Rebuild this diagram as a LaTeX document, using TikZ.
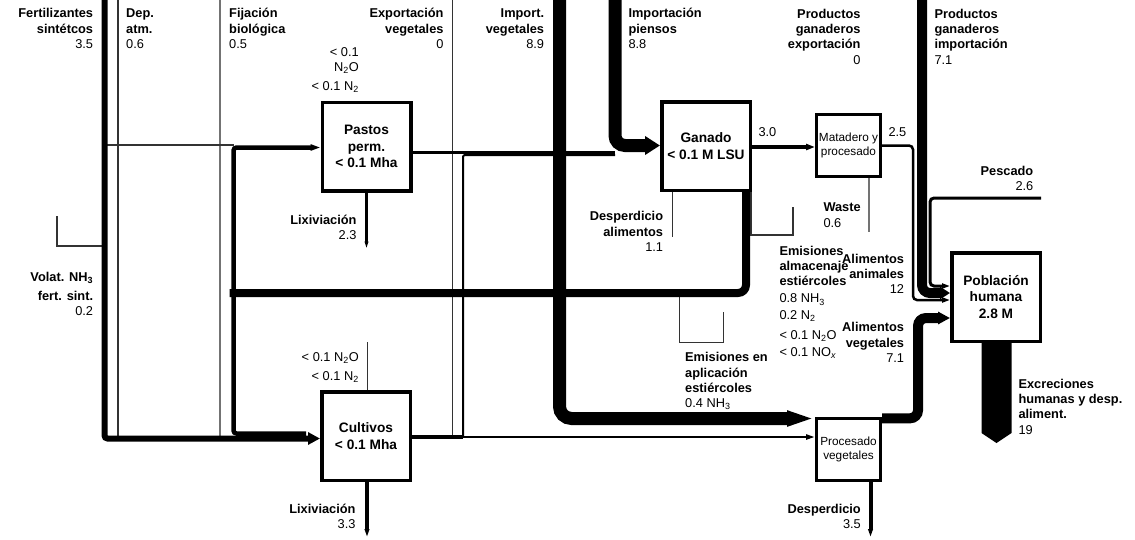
\documentclass[tikz,border=0pt]{standalone}
\usepackage{fontspec}
\setmainfont{Liberation Sans}
\usetikzlibrary{arrows.meta,calc}

\newcommand\lblfont{\fontsize{12.8}{15.3}\selectfont}
\newcommand\boxfont{\fontsize{13.7}{16.8}\selectfont\bfseries}
\newcommand\smallboxfont{\fontsize{11.8}{14.6}\selectfont}
\newcommand\sub[1]{\textsubscript{#1}}

\begin{document}
% Labels are placed by the baseline of their last line.
\begin{tikzpicture}[x=1pt,y=-1pt,
  flow/.style={draw=black,line width=#1},
  minor/.style={draw=black!80,line width=#1},
  bigbox/.style={draw,line width=3.5pt,fill=white,minimum width=88.5pt,minimum height=88.5pt,inner sep=0pt,align=center,font=\boxfont},
  smallbox/.style={draw,line width=3pt,fill=white,minimum width=64pt,minimum height=62pt,inner sep=0pt,align=center,font=\smallboxfont},
  lr/.style={inner sep=0pt,font=\lblfont,align=right,anchor=base east},
  ll/.style={inner sep=0pt,font=\lblfont,align=left,anchor=base west},
]
\fill[white] (0,0) rectangle (1135,539);
\useasboundingbox (0,0) rectangle (1135,539);

% ---- compartments
\node[bigbox] (pastos) at (366.5,146.5) {Pastos\\perm.\\< 0.1 Mha};
\node[bigbox] (ganado) at (706,146) {Ganado\\< 0.1 M LSU};
\node[bigbox] (cultivos) at (366,436) {Cultivos\\< 0.1 Mha};
\node[bigbox] (poblacion) at (996,297) {Población\\humana\\2.8 M};
\node[smallbox] (matadero) at (848.5,145.5) {Matadero y\\procesado};
\node[smallbox] (procveg) at (848.5,449.5) {Procesado\\vegetales};

% ---- inputs entering from the top edge
\coordinate (fert) at (104.5,0);
\coordinate (dep) at (118,0);
\coordinate (fij) at (220,0);
\coordinate (expveg) at (452,0);
\coordinate (impveg) at (559.5,0);
\coordinate (piensos) at (615,0);
\coordinate (impanim) at (922,0);
\coordinate (pescado) at (1041,198);
% ---- junctions and loose ends
\coordinate (msplit) at (233.5,293);
\coordinate (cout) at (463,437);
\coordinate (volat) at (57,216);
\coordinate (meatdown) at (913,300);
\coordinate (fishdown) at (930,286);
\coordinate (vegup) at (918,318);
\coordinate (storem) at (793,207);
\coordinate (applyfrom) at (679,297);
\coordinate (applyem) at (723,312);
\coordinate (cropem) at (367,342);

% ---- minor flows
\draw[minor=1.5] (dep) -- (dep |- 0,437);
\draw[minor=1.2,draw=black!55] (fij) -- (fij |- 0,437);
\draw[minor=1.5] (fert |- 0,145) -- (msplit |- 0,145);
\draw[minor=1] (expveg) -- (expveg |- 0,437);
\draw[minor=1.3] (fert |- 0,246) -| (volat);
\draw[minor=1] (cropem) -- ([xshift=1pt]cultivos.north);
\draw[minor=1.5] ([xshift=-33.5pt]ganado.south) -- ++(0,45);
\draw[minor=1.5,draw=black!55] ([xshift=20.5pt]matadero.south) -- ++(0,54);
\draw[minor=1.5] ([xshift=45pt]ganado.south) |- (storem |- 0,235) -- (storem);
\draw[minor=1] (applyfrom) |- (applyem |- 0,342) -- (applyem);

% ---- synthetic fertiliser to crops
\draw[flow=6,rounded corners=3pt,-{Triangle[length=12pt,width=12pt]}] (fert) |- ([yshift=-2.5pt]cultivos.west);

% ---- manure from livestock to the fields
\draw[flow=8,rounded corners=8pt] ([xshift=40pt]ganado.south) |- ([xshift=-4pt]msplit);
\draw[flow=4.5,rounded corners=3pt,-{Triangle[length=10pt,width=6pt]}] ([yshift=-2pt]msplit) |- ([yshift=-1pt]pastos.west);
\draw[flow=4.5,rounded corners=3pt,shorten >=14pt] ([yshift=2pt]msplit) |- ([yshift=2.5pt]cultivos.west);

% ---- feed to livestock
\draw[flow=2,rounded corners=2pt] (cout) |- (piensos |- 0,155);
\draw[flow=3] ([yshift=-6pt]pastos.east) -- (piensos |- 0,152.5);
\draw[flow=13,rounded corners=10pt,-{Triangle[length=15pt,width=18pt]}] (piensos) |- ([yshift=0.5pt]ganado.west);

% ---- crops to processing
\draw[flow=4] ([yshift=-1pt]cultivos.east) -- (cout);
\draw[flow=2.5,-{Triangle[length=9pt,width=5pt]}] (cout) -- (procveg.west |- cout);
\draw[flow=13,rounded corners=12pt,-{Triangle[length=28pt,width=14pt]}] (impveg) |- ([yshift=31pt]procveg.west);

% ---- livestock products
\draw[flow=4,-{Triangle[length=9pt,width=6pt]}] ([yshift=-1pt]ganado.east) -- ([yshift=-1.5pt]matadero.west);
\draw[flow=2.5,rounded corners=4pt,-{Triangle[length=8pt,width=5pt]}] (matadero.east) -| (meatdown) -- (poblacion.west |- meatdown);
\draw[flow=10,rounded corners=8pt,-{Triangle[length=10pt,width=12pt]}] (impanim) |- ([yshift=4pt]poblacion.west);
\draw[flow=3,rounded corners=4pt,-{Triangle[length=8pt,width=5pt]}] (pescado) -| (fishdown) -- (poblacion.west |- fishdown);

% ---- plant food to population
\draw[flow=10,rounded corners=8pt,-{Triangle[length=12pt,width=12pt]}] ([yshift=31.2pt]procveg.east) -| (vegup) -- (poblacion.west |- vegup);

% ---- losses
\draw[flow=3,-{Triangle[length=7pt,width=3.5pt]}] (pastos.south) -- ++(0,56);
\draw[flow=4,-{Triangle[length=8pt,width=4.5pt]}] ([xshift=1pt]cultivos.south) -- ++(0,55);
\draw[flow=4,-{Triangle[length=8pt,width=4.5pt]}] ([xshift=22pt]procveg.south) -- ++(0,55);
\fill ([xshift=-14.5pt]poblacion.south) -- ++(0,90) -- ++(15,10) -- ++(15,-10) -- ++(0,-90) -- cycle;

% ---- labels
\node[lr] (tfert) at (93.3,48.5) {\textbf{Fertilizantes}\\\textbf{sintétcos}\\3.5};
\node[ll] (tdep) at (126,48.5) {\textbf{Dep.}\\\textbf{atm.}\\0.6};
\node[ll] (tfij) at (229,48.5) {\textbf{Fijación}\\\textbf{biológica}\\0.5};
\node[lr] (texpveg) at (443.7,48.5) {\textbf{Exportación}\\\textbf{vegetales}\\0};
\node[lr] (tpastem) at (359,90.6) {< 0.1\\[0.5pt]N\sub{2}O\\[3.5pt]< 0.1 N\sub{2}};
\node[lr] (timpveg) at (544.3,48.5) {\textbf{Import.}\\\textbf{vegetales}\\8.9};
\node[ll] (tpiensos) at (628.3,48.5) {\textbf{Importación}\\\textbf{piensos}\\8.8};
\node[lr] (texpanim) at (860.7,64.2) {\textbf{Productos}\\\textbf{ganaderos}\\\textbf{exportación}\\0};
\node[ll] (timpanim) at (934.3,64.2) {\textbf{Productos}\\\textbf{ganaderos}\\\textbf{importación}\\7.1};
\node[lr] (tpescado) at (1033.5,190.3) {\textbf{Pescado}\\2.6};
\node[ll] (tmeat) at (758.3,136.7) {3.0};
\node[ll] (tmeatout) at (888.3,136.7) {2.5};
\node[ll] (twaste) at (823.3,227) {\textbf{Waste}\\0.6};
\node[lr] (tfoodwaste) at (663.3,251.3) {\textbf{Desperdicio}\\\textbf{alimentos}\\1.1};
\node[lr] (tleachp) at (356.7,239.3) {\textbf{Lixiviación}\\2.3};
\node[lr] (tvolat) at (93.3,315.3) {\textbf{Volat. NH\sub{3}}\\[3pt]\textbf{fert. sint.}\\0.2};
\node[ll] (tstorage) at (779.3,356.3) {\textbf{Emisiones}\\\textbf{almacenaje}\\\textbf{estiércoles}\\[2pt]0.8 NH\sub{3}\\[1.5pt]0.2 N\sub{2}\\[4pt]< 0.1 N\sub{2}O\\[2pt]< 0.1 NO\sub{\textit{x}}};
\node[lr] (tanimfood) at (904.3,293.9) {\textbf{Alimentos}\\\textbf{animales}\\12};
\node[lr] (tvegfood) at (904.3,362.3) {\textbf{Alimentos}\\\textbf{vegetales}\\7.1};
\node[ll] (tapply) at (685,407.6) {\textbf{Emisiones en}\\\textbf{aplicación}\\\textbf{estiércoles}\\0.4 NH\sub{3}};
\node[lr] (tcropem) at (359,380.5) {< 0.1 N\sub{2}O\\[3.5pt]< 0.1 N\sub{2}};
\node[lr] (tleachc) at (355.7,528.8) {\textbf{Lixiviación}\\3.3};
\node[lr] (tprocwaste) at (861,528.8) {\textbf{Desperdicio}\\3.5};
\node[ll] (texcr) at (1018.3,434.2) {\textbf{Excreciones}\\\textbf{humanas y desp.}\\\textbf{aliment.}\\19};
\end{tikzpicture}
\end{document}
